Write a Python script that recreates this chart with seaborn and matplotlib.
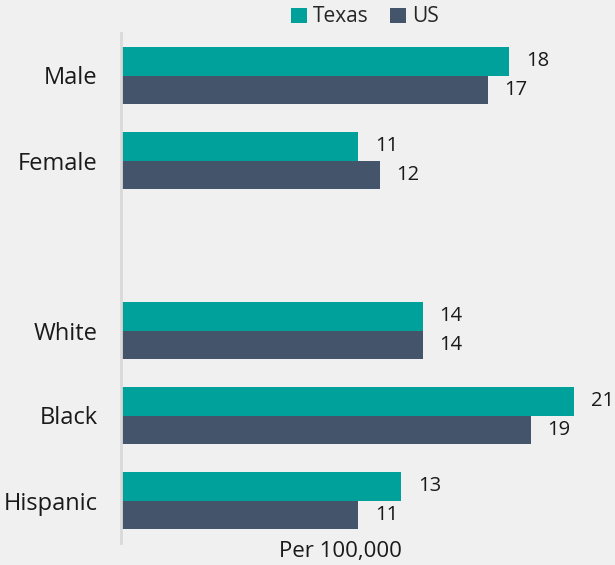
import pandas as pd
import matplotlib.pyplot as plt
import seaborn as sns

categories = ["Male", "Female", "White", "Black", "Hispanic"]
texas = [18, 11, 14, 21, 13]
us = [17, 12, 14, 19, 11]
order = ["Male", "Female", " ", "White", "Black", "Hispanic"]

COLOURS = {"Texas": "#00A19A", "US": "#44546A"}
BG = "#F0F0F0"

sns.set_theme(style="white")
plt.rcParams["font.family"] = ["Open Sans", "DejaVu Sans"]

df = pd.DataFrame({
    "category": categories * 2,
    "region": ["Texas"] * len(categories) + ["US"] * len(categories),
    "value": texas + us,
})

fig = plt.figure(figsize=(6.15, 5.65), dpi=100, facecolor=BG)
ax = fig.add_axes([121 / 615, 22 / 565, 1 - 121 / 615, 510 / 565])
ax.set_facecolor(BG)

sns.barplot(data=df, y="category", x="value", hue="region", order=order,
            hue_order=["Texas", "US"], palette=COLOURS, width=0.66,
            saturation=1, orient="h", linewidth=0, ax=ax)

for cont in ax.containers:
    ax.bar_label(cont, fmt="{:.0f}", padding=12, fontsize=14.5,
                 color="#1a1a1a", clip_on=False)

ax.set_xlim(0, (615 - 121) / 21.57)
ax.set_ylim(5.5, -0.5)
ax.set_xticks([])
ax.set_ylabel("")
ax.set_xlabel("Per 100,000", fontsize=16, color="#1a1a1a", labelpad=0)
ax.xaxis.label.set_va("center")
ax.xaxis.set_label_coords((340 - 121) / (615 - 121), -(551 - 543) / 510)
ax.tick_params(axis="y", length=0, pad=17, labelsize=17, labelcolor="#1a1a1a")
for side in ("top", "right", "bottom"):
    ax.spines[side].set_visible(False)
ax.spines["left"].set_color("#D9D9D9")
ax.spines["left"].set_linewidth(2)

handles, labels = ax.get_legend_handles_labels()
ax.get_legend().remove()
fig.legend(handles, labels, loc="center", bbox_to_anchor=(365 / 615, 1 - 17 / 565),
           ncol=2, frameon=False, fontsize=15, handlelength=0.75, handleheight=0.75,
           handletextpad=0.3, columnspacing=1.0, borderaxespad=0)

fig.savefig("out.png", dpi=100, facecolor=BG)
